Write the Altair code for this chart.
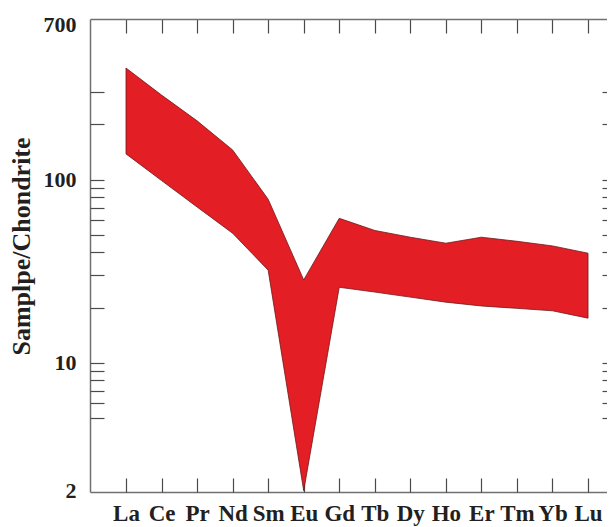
import altair as alt
import pandas as pd

# REE elements (x categories)
elements = ["La", "Ce", "Pr", "Nd", "Sm", "Eu", "Gd", "Tb", "Dy", "Ho", "Er", "Tm", "Yb", "Lu"]
# Upper and lower envelope of the chondrite-normalised band
upper = [406, 289, 209, 145, 78, 28.3, 61.4, 52.7, 48.4, 44.9, 48.4, 46.0, 43.4, 39.6]
lower = [138, 98.7, 70.8, 50.9, 32, 2.0, 25.8, 24.3, 22.8, 21.4, 20.4, 19.8, 19.2, 17.5]

# Axis ticks / labels
y_label_values = [2, 10, 100, 700]
y_tick_values = [5, 6, 7, 8, 9, 10, 20, 30, 40, 50, 60, 70, 80, 90, 100, 200, 300]
y_title = "Samplpe/Chondrite"

df = pd.DataFrame({
    "element": elements,
    "idx": list(range(len(elements))),
    "upper": upper,
    "lower": lower,
})

W, H = 517, 473
FONT = "Liberation Serif"
TEXT = "#231f20"
FRAME = "#707070"
TICK = "#4a4a4a"

xscale = alt.Scale(domain=[-1.013, 13.534], nice=False, zero=False)
yscale = alt.Scale(type="log", domain=[1.968, 752], nice=False)
idx_values = list(range(len(elements)))
label_expr = "[" + ",".join(f"'{e}'" for e in elements) + "][datum.value]"

# Main band with labels and frame (left + bottom domain lines)
band = alt.Chart(df).mark_area(
    color="#e31e25", stroke="#6e1818", strokeWidth=0.8, opacity=1
).encode(
    x=alt.X("idx:Q", scale=xscale, axis=alt.Axis(
        orient="bottom", values=idx_values, labelExpr=label_expr,
        ticks=False, domain=True, domainColor=FRAME, domainWidth=1.5, grid=False,
        labelPadding=10, labelFont=FONT, labelFontWeight="bold", labelFontSize=23,
        labelColor=TEXT, labelFlush=False, labelOverlap=False, title=None)),
    y=alt.Y("upper:Q", scale=yscale, axis=alt.Axis(
        orient="left", values=y_label_values, format="d",
        ticks=False, domain=True, domainColor=FRAME, domainWidth=1.5, grid=False,
        labelPadding=14, labelFont=FONT, labelFontWeight="bold", labelFontSize=22,
        labelColor=TEXT, labelOverlap=False, labelFlush=False,
        title=y_title, titleFont=FONT, titleFontWeight="bold", titleFontSize=26,
        titleColor=TEXT, titlePadding=9, titleY=227)),
    y2="lower:Q",
)

# Inward ticks at the bottom and left edges
ticks_bl = alt.Chart(df).mark_area(opacity=0).encode(
    x=alt.X("idx:Q", scale=xscale, axis=alt.Axis(
        orient="top", offset=-H, values=idx_values, ticks=True, tickSize=14,
        tickColor=TICK, tickWidth=1.2, labels=False, domain=False, grid=False, title=None)),
    y=alt.Y("upper:Q", scale=yscale, axis=alt.Axis(
        orient="right", offset=-W, values=y_tick_values, ticks=True, tickSize=14,
        tickColor=TICK, tickWidth=1.2, labels=False, domain=False, grid=False, title=None)),
    y2="lower:Q",
)

# Inward ticks at the top and right edges, top frame line
ticks_tr = alt.Chart(df).mark_area(opacity=0).encode(
    x=alt.X("idx:Q", scale=xscale, axis=alt.Axis(
        orient="bottom", offset=-H, values=idx_values, ticks=True, tickSize=14,
        tickColor=TICK, tickWidth=1.2, labels=False, domain=True, domainColor=FRAME,
        domainWidth=1.5, grid=False, title=None)),
    y=alt.Y("upper:Q", scale=yscale, axis=alt.Axis(
        orient="left", offset=-(W + 9), values=y_tick_values, ticks=True, tickSize=14,
        tickColor=TICK, tickWidth=1.2, labels=False, domain=False, grid=False, title=None)),
    y2="lower:Q",
)

chart = alt.layer(band, ticks_bl, ticks_tr).resolve_axis(
    x="independent", y="independent"
).properties(
    width=W, height=H,
    autosize=alt.AutoSizeParams(type="none"),
    padding={"left": 82, "top": 11, "right": 0, "bottom": 35},
    background="white",
).configure_view(stroke=None)

chart.save("out.html", embed_options={"renderer": "svg", "actions": False})
